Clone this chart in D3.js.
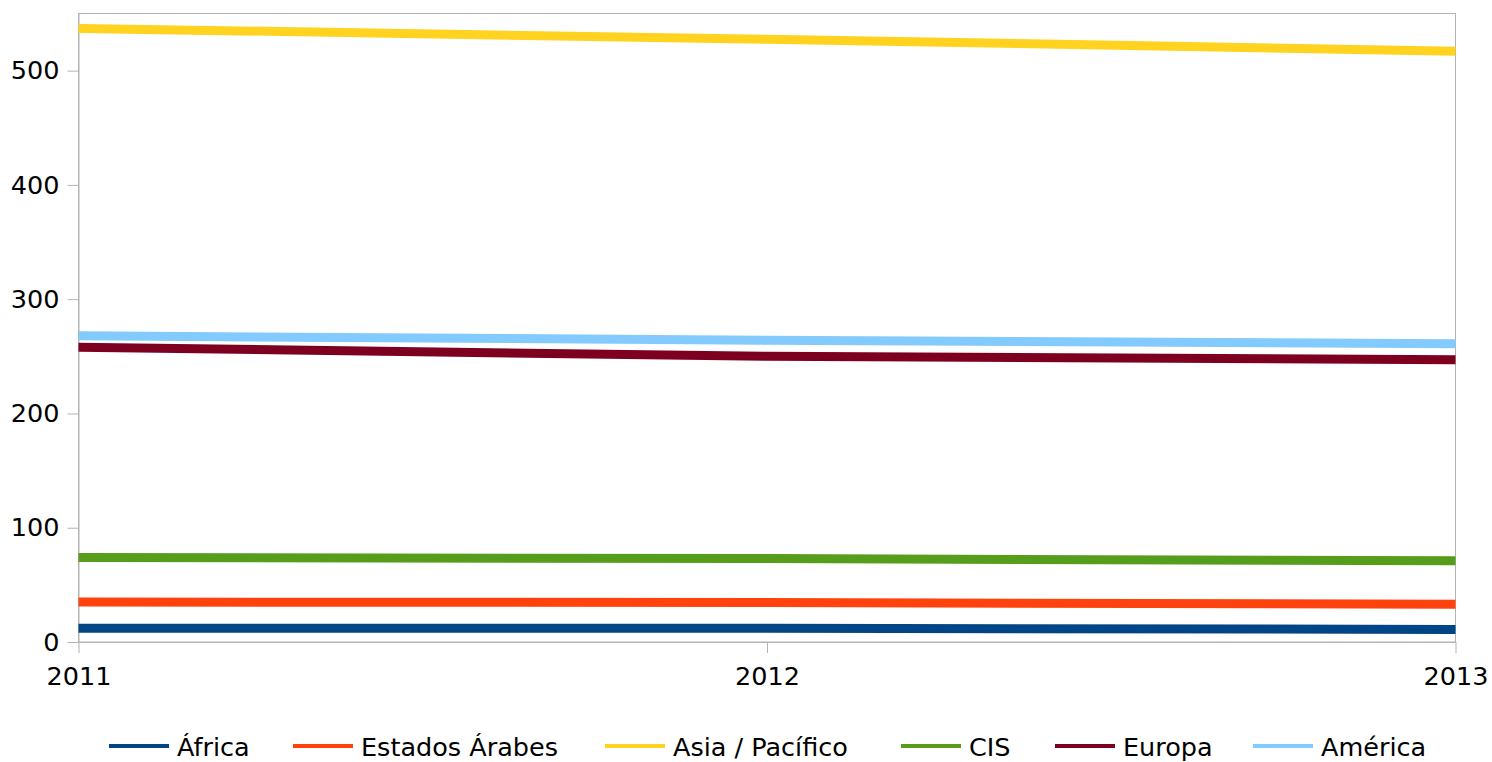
<!DOCTYPE html>
<html>
<head>
<meta charset="utf-8">
<script src="https://cdn.jsdelivr.net/npm/d3@7"></script>
<style>
  html, body { margin: 0; padding: 0; background: #fff; }
  svg { display: block; font-family: "DejaVu Sans", Verdana, sans-serif; }
</style>
</head>
<body>
<svg id="chart" width="1492" height="762"></svg>
<script>
// Years on the x axis
const years = [2011, 2012, 2013];

// Series values per region (one value per year)
const africa = [12, 12, 11];
const arabStates = [35, 34.5, 33];
const asiaPacific = [537, 527.5, 517];
const cis = [74, 73, 71];
const europe = [258, 250, 247];
const americas = [268, 264, 261];

const seriesNames = ["África", "Estados Árabes", "Asia / Pacífico", "CIS", "Europa", "América"];
const seriesColors = ["#004586", "#ff420e", "#ffd320", "#579d1c", "#7e0021", "#83caff"];
const seriesValues = [africa, arabStates, asiaPacific, cis, europe, americas];

const yTicks = [0, 100, 200, 300, 400, 500];

const svg = d3.select("#chart");
const plotLeft = 78.5, plotRight = 1455.5, plotTop = 13.5, plotBottom = 642;

const x = d3.scaleLinear().domain([2011, 2013]).range([plotLeft, plotRight]);
const y = d3.scaleLinear().domain([0, 550]).range([plotBottom, plotTop]);

// Plot frame
svg.append("rect")
  .attr("x", plotLeft).attr("y", plotTop)
  .attr("width", plotRight - plotLeft).attr("height", plotBottom - plotTop)
  .attr("fill", "none").attr("stroke", "#b3b3b3").attr("stroke-width", 1);

// Y axis
const yAxis = svg.append("g")
  .attr("transform", `translate(${plotLeft},0)`)
  .call(d3.axisLeft(y).tickValues(yTicks).tickSizeInner(11).tickSizeOuter(0)
    .tickPadding(8).tickFormat(d3.format("d")));
yAxis.select(".domain").attr("stroke", "#b3b3b3");
yAxis.selectAll(".tick line").attr("stroke", "#b3b3b3");
yAxis.selectAll("text").attr("font-size", 25.5).attr("fill", "#000")
  .attr("font-family", "DejaVu Sans, Verdana, sans-serif");

// X axis
const xAxis = svg.append("g")
  .attr("transform", `translate(0,${plotBottom})`)
  .call(d3.axisBottom(x).tickValues(years).tickSizeInner(11).tickSizeOuter(0)
    .tickPadding(14).tickFormat(d3.format("d")));
xAxis.select(".domain").attr("stroke", "#b3b3b3");
xAxis.selectAll(".tick line").attr("stroke", "#b3b3b3");
xAxis.selectAll("text").attr("font-size", 25.5).attr("fill", "#000")
  .attr("font-family", "DejaVu Sans, Verdana, sans-serif");

// Series lines
const line = d3.line()
  .x((d, i) => x(years[i]))
  .y(d => y(d))
  .curve(d3.curveMonotoneX);

seriesValues.forEach((vals, k) => {
  svg.append("path")
    .datum(vals)
    .attr("d", line)
    .attr("fill", "none")
    .attr("stroke", seriesColors[k])
    .attr("stroke-width", 9)
    .attr("stroke-linecap", "butt");
});

// Legend
const legendY = 746;
const legendX = [109, 293, 605, 901, 1055, 1253];
const legend = svg.append("g");
seriesNames.forEach((name, k) => {
  const g = legend.append("g").attr("transform", `translate(${legendX[k]},${legendY})`);
  g.append("line").attr("x1", 0).attr("x2", 60).attr("y1", 0).attr("y2", 0)
    .attr("stroke", seriesColors[k]).attr("stroke-width", 4);
  g.append("text").attr("x", 68).attr("y", 10)
    .attr("font-size", 25.5).attr("fill", "#000").text(name);
});
</script>
</body>
</html>
